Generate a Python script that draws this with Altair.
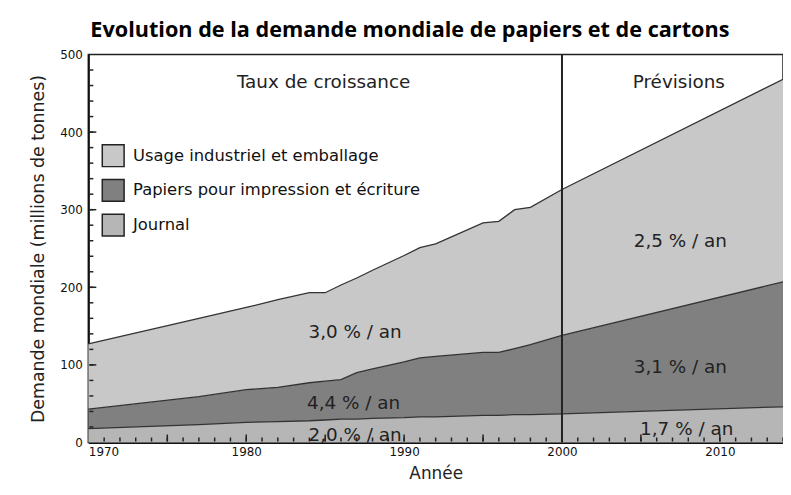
import altair as alt
import pandas as pd

years = [1970, 1977, 1980, 1982, 1984, 1985, 1986, 1987, 1988, 1990, 1991, 1992,
         1995, 1996, 1997, 1998, 2000, 2014]
journal = [18, 23, 26, 27, 28, 29, 30, 30, 31, 32, 33, 33, 35, 35, 36, 36, 37, 46]
papiers = [25, 36, 42, 44, 49, 50, 51, 60, 64, 72, 76, 78, 81, 81, 85, 90, 101, 161]
usage = [84, 101, 106, 113, 116, 114, 122, 122, 127, 137, 142, 145, 167, 169, 179, 177, 188, 261]

series_names = ["Usage industriel et emballage", "Papiers pour impression et écriture", "Journal"]
series_colors = ["#c8c8c8", "#808080", "#b6b6b6"]

x_labels = [1970, 1980, 1990, 2000, 2010]
y_labels = [0, 100, 200, 300, 400, 500]
x_minor = list(range(1971, 2015))
x_major = list(range(1975, 2015, 5))
y_minor = list(range(20, 500, 20))
y_major = [100, 200, 300, 400]

ann_text = ["Taux de croissance", "Prévisions", "3,0 % / an", "4,4 % / an", "2,0 % / an",
            "2,5 % / an", "3,1 % / an", "1,7 % / an"]
ann_x = [1984.9, 2007.4, 1986.9, 1986.8, 1986.9, 2007.5, 2007.5, 2007.9]
ann_y = [465, 465, 142, 51, 10, 260, 97, 17]

# build stacked table (bottom to top: Journal, Papiers, Usage)
rows = []
for i, yr in enumerate(years):
    b0 = 0
    for name, vals in [(series_names[2], journal), (series_names[1], papiers), (series_names[0], usage)]:
        rows.append({"year": yr, "series": name, "bottom": b0, "top": b0 + vals[i]})
        b0 += vals[i]
df = pd.DataFrame(rows)

xs = alt.Scale(domain=[1970, 2014], nice=False, zero=False)
ys = alt.Scale(domain=[0, 500], nice=False)

base = alt.Chart(df)

areas = base.mark_area(opacity=1, interpolate="linear").encode(
    x=alt.X("year:Q", scale=xs,
            axis=alt.Axis(values=x_labels, format="d", ticks=False, grid=False,
                          title="Année", domainColor="#111", domainWidth=2,
                          labelFont="DejaVu Sans", labelFontSize=12, labelColor="#111",
                          labelPadding=4, titleFont="DejaVu Sans", titleFontSize=17,
                          titleFontWeight="normal", titleColor="#222", titlePadding=8)),
    y=alt.Y("top:Q", scale=ys,
            axis=alt.Axis(values=y_labels, ticks=False, grid=False,
                          title="Demande mondiale (millions de tonnes)",
                          domainColor="#111", domainWidth=2,
                          labelFont="DejaVu Sans", labelFontSize=12, labelColor="#111",
                          labelPadding=6, titleFont="DejaVu Sans", titleFontSize=17.5,
                          titleFontWeight="normal", titleColor="#222", titlePadding=12)),
    y2="bottom:Q",
    color=alt.Color("series:N",
                    scale=alt.Scale(domain=series_names, range=series_colors),
                    legend=alt.Legend(title=None, orient="none", legendX=13, legendY=90,
                                      symbolType="square", symbolSize=484,
                                      symbolStrokeColor="#222", symbolStrokeWidth=1.5,
                                      symbolOpacity=1, labelFont="DejaVu Sans",
                                      labelFontSize=16.5, labelColor="#111", labelLimit=500,
                                      labelOffset=8, rowPadding=7, padding=0)),
    detail="series:N",
)

lines = base.mark_line(color="#333", strokeWidth=1.3).encode(
    x=alt.X("year:Q", scale=xs),
    y=alt.Y("top:Q", scale=ys),
    detail="series:N",
)

vline = alt.Chart(pd.DataFrame({"year": [2000]})).mark_rule(color="#222", strokeWidth=2).encode(
    x=alt.X("year:Q", scale=xs)
)

xt_minor = alt.Chart(pd.DataFrame({"year": x_minor})).mark_rule(color="#222", strokeWidth=1.5).encode(
    x=alt.X("year:Q", scale=xs), y=alt.value(390), y2=alt.value(386))
xt_major = alt.Chart(pd.DataFrame({"year": x_major})).mark_rule(color="#222", strokeWidth=1.5).encode(
    x=alt.X("year:Q", scale=xs), y=alt.value(390), y2=alt.value(383))
yt_minor = alt.Chart(pd.DataFrame({"v": y_minor})).mark_rule(color="#222", strokeWidth=1.5).encode(
    y=alt.Y("v:Q", scale=ys), x=alt.value(1), x2=alt.value(5))
yt_major = alt.Chart(pd.DataFrame({"v": y_major})).mark_rule(color="#222", strokeWidth=1.5).encode(
    y=alt.Y("v:Q", scale=ys), x=alt.value(1), x2=alt.value(8))

ann = alt.Chart(pd.DataFrame({"t": ann_text, "x": ann_x, "y": ann_y})).mark_text(
    font="DejaVu Sans", fontSize=18.5, color="#222", align="center", baseline="middle"
).encode(x=alt.X("x:Q", scale=xs), y=alt.Y("y:Q", scale=ys), text="t:N")

chart = alt.layer(areas, lines, vline, xt_minor, xt_major, yt_minor, yt_major, ann).properties(
    width=700, height=391,
    title=alt.TitleParams("Evolution de la demande mondiale de papiers et de cartons",
                          font="Open Sans", fontSize=21.8, fontWeight="bold", color="#000",
                          anchor="middle", dx=-26, offset=7),
    autosize=alt.AutoSizeParams(type="none"),
    padding={"left": 81, "top": 45, "right": 0, "bottom": 44},
).configure_view(stroke="#222", strokeWidth=1.5)

chart.save("out.html", embed_options={"renderer": "svg", "actions": False})
